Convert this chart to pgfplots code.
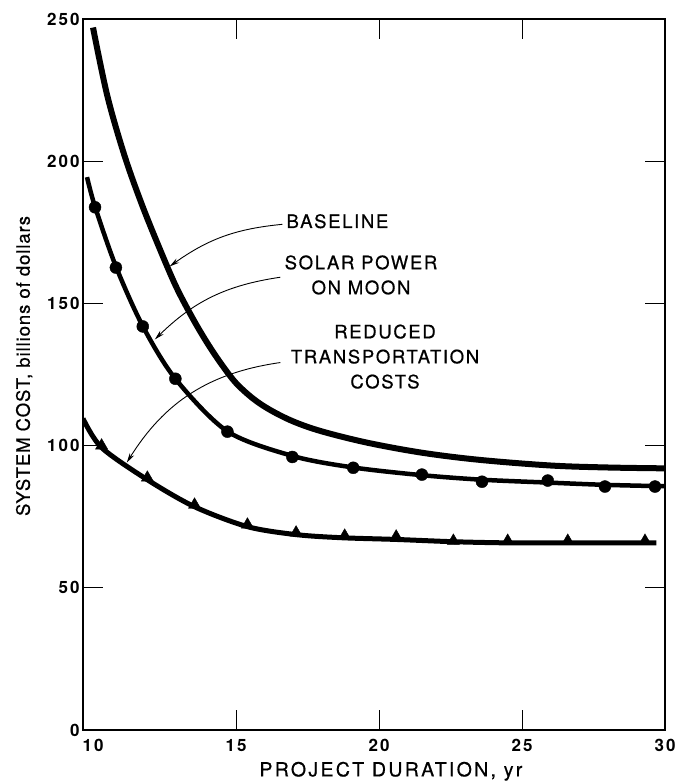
\documentclass[border=0pt]{standalone}
\usepackage{pgfplots}
\pgfplotsset{compat=1.18}
\usepackage{fontspec}
\setmainfont{TeX Gyre Heros}
\newfontfamily\labfont[LetterSpace=9,FakeBold=0.6]{TeX Gyre Heros}
\newfontfamily\xlabfont[LetterSpace=12,FakeBold=0.6]{TeX Gyre Heros}
\newfontfamily\ylabfont[LetterSpace=5,FakeBold=0.6]{TeX Gyre Heros}
\newfontfamily\tickfont[LetterSpace=12]{TeX Gyre Heros}
\usetikzlibrary{arrows.meta}
\begin{document}
\begin{tikzpicture}
\useasboundingbox (0,0) rectangle (688pt,781pt);
\begin{axis}[
 at={(83pt,51pt)}, anchor=south west,
 scale only axis, width=582pt, height=711pt,
 xmin=9.65, xmax=30, ymin=0, ymax=250,
 xtick={15,20,25}, extra x ticks={10,30},
 ytick={50,100,150,200}, extra y ticks={0,250},
 extra x tick style={major tick length=0pt},
 extra y tick style={major tick length=0pt},
 tick align=inside, major tick length=20pt,
 axis line style={line width=1.4pt},
 every tick/.style={black, line width=0.9pt},
 /pgf/number format/assume math mode=true,
 tick label style={font=\tickfont\bfseries\fontsize{17}{17}\selectfont},
 xticklabel style={yshift=-6pt},
 xlabel={PROJECT DURATION, yr},
 ylabel={SYSTEM COST, billions of dollars},
 xlabel style={at={(axis description cs:0.529,-0.058)}, anchor=center, font=\xlabfont\fontsize{19.5}{19.5}\selectfont},
 ylabel style={at={(axis description cs:-0.101,0.512)}, anchor=center, font=\ylabfont\fontsize{18.5}{18.5}\selectfont},
]
% Baseline
\addplot[black, line width=6pt, smooth, tension=0.55] coordinates {
(10.0,247) (10.5,223) (11.1,202) (11.7,185) (12.3,170) (12.9,156) (13.5,144.5)
(14.0,136) (14.5,128.5) (15.0,122) (15.6,116.5) (16.2,112.5) (17.0,108.5)
(18.0,105) (19.6,101) (21.5,97.5) (23.5,95) (26,93) (28,92.3) (30,92)};
% Solar power on moon
\addplot[black, line width=4.5pt, smooth, tension=0.5] coordinates {
(9.79,194.4) (10.07,184) (10.8,163) (11.74,142) (12.88,123.5) (14.7,105)
(17,96.3) (19.1,92.3) (21.5,89.6) (23.6,88) (25.9,87) (27.9,86.2) (30,85.7)};
\addplot[black, only marks, mark=*, mark size=6pt] coordinates {
(10.07,183.8) (10.8,162.6) (11.74,141.9) (12.88,123.5) (14.7,104.9) (16.97,96)
(19.1,92.2) (21.5,89.8) (23.6,87.3) (25.9,87.7) (27.9,85.6) (29.65,85.6)};
% Reduced transportation costs
\addplot[black, line width=5pt, smooth, tension=0.5] coordinates {
(9.65,109.5) (10.3,99.3) (11.9,88) (13.55,78.5) (15.4,71.5) (17.1,68.7)
(18.7,67.6) (20.6,67.0) (22.6,66.2) (24.5,65.8) (26.6,65.8) (29.3,65.8) (29.7,65.8)};
\addplot[black, only marks, mark=triangle*, mark size=7pt] coordinates {
(10.3,100) (11.9,88.7) (13.55,79.2) (15.4,72.2) (17.1,69.4) (18.8,68.3)
(20.6,68) (22.6,66.5) (24.5,66.5) (26.6,66.5) (29.3,66.5)};
% annotations
\draw[line width=0.9pt, -{Stealth[length=10pt,width=5pt]}] (axis cs:16.62,177.8) to[bend right=15] (axis cs:12.68,163);
\draw[line width=0.9pt, -{Stealth[length=10pt,width=5pt]}] (axis cs:16.55,159.2) to[bend right=18] (axis cs:12.16,137.3);
\draw[line width=0.9pt, -{Stealth[length=10pt,width=5pt]}] (axis cs:16.55,129.2) to[bend right=25] (axis cs:11.18,94.0);
\node[anchor=west, inner sep=0pt, font=\labfont\fontsize{18.5}{25}\selectfont] at (axis cs:16.76,178.9) {BASELINE};
\node[align=center, inner sep=0pt, font=\labfont\fontsize{18.5}{25}\selectfont] at (axis cs:19.37,160.0) {SOLAR POWER\\ON MOON};
\node[align=center, inner sep=0pt, font=\labfont\fontsize{18.5}{25}\selectfont] at (axis cs:20.21,131.3) {REDUCED\\TRANSPORTATION\\COSTS};
\end{axis}
\end{tikzpicture}
\end{document}
